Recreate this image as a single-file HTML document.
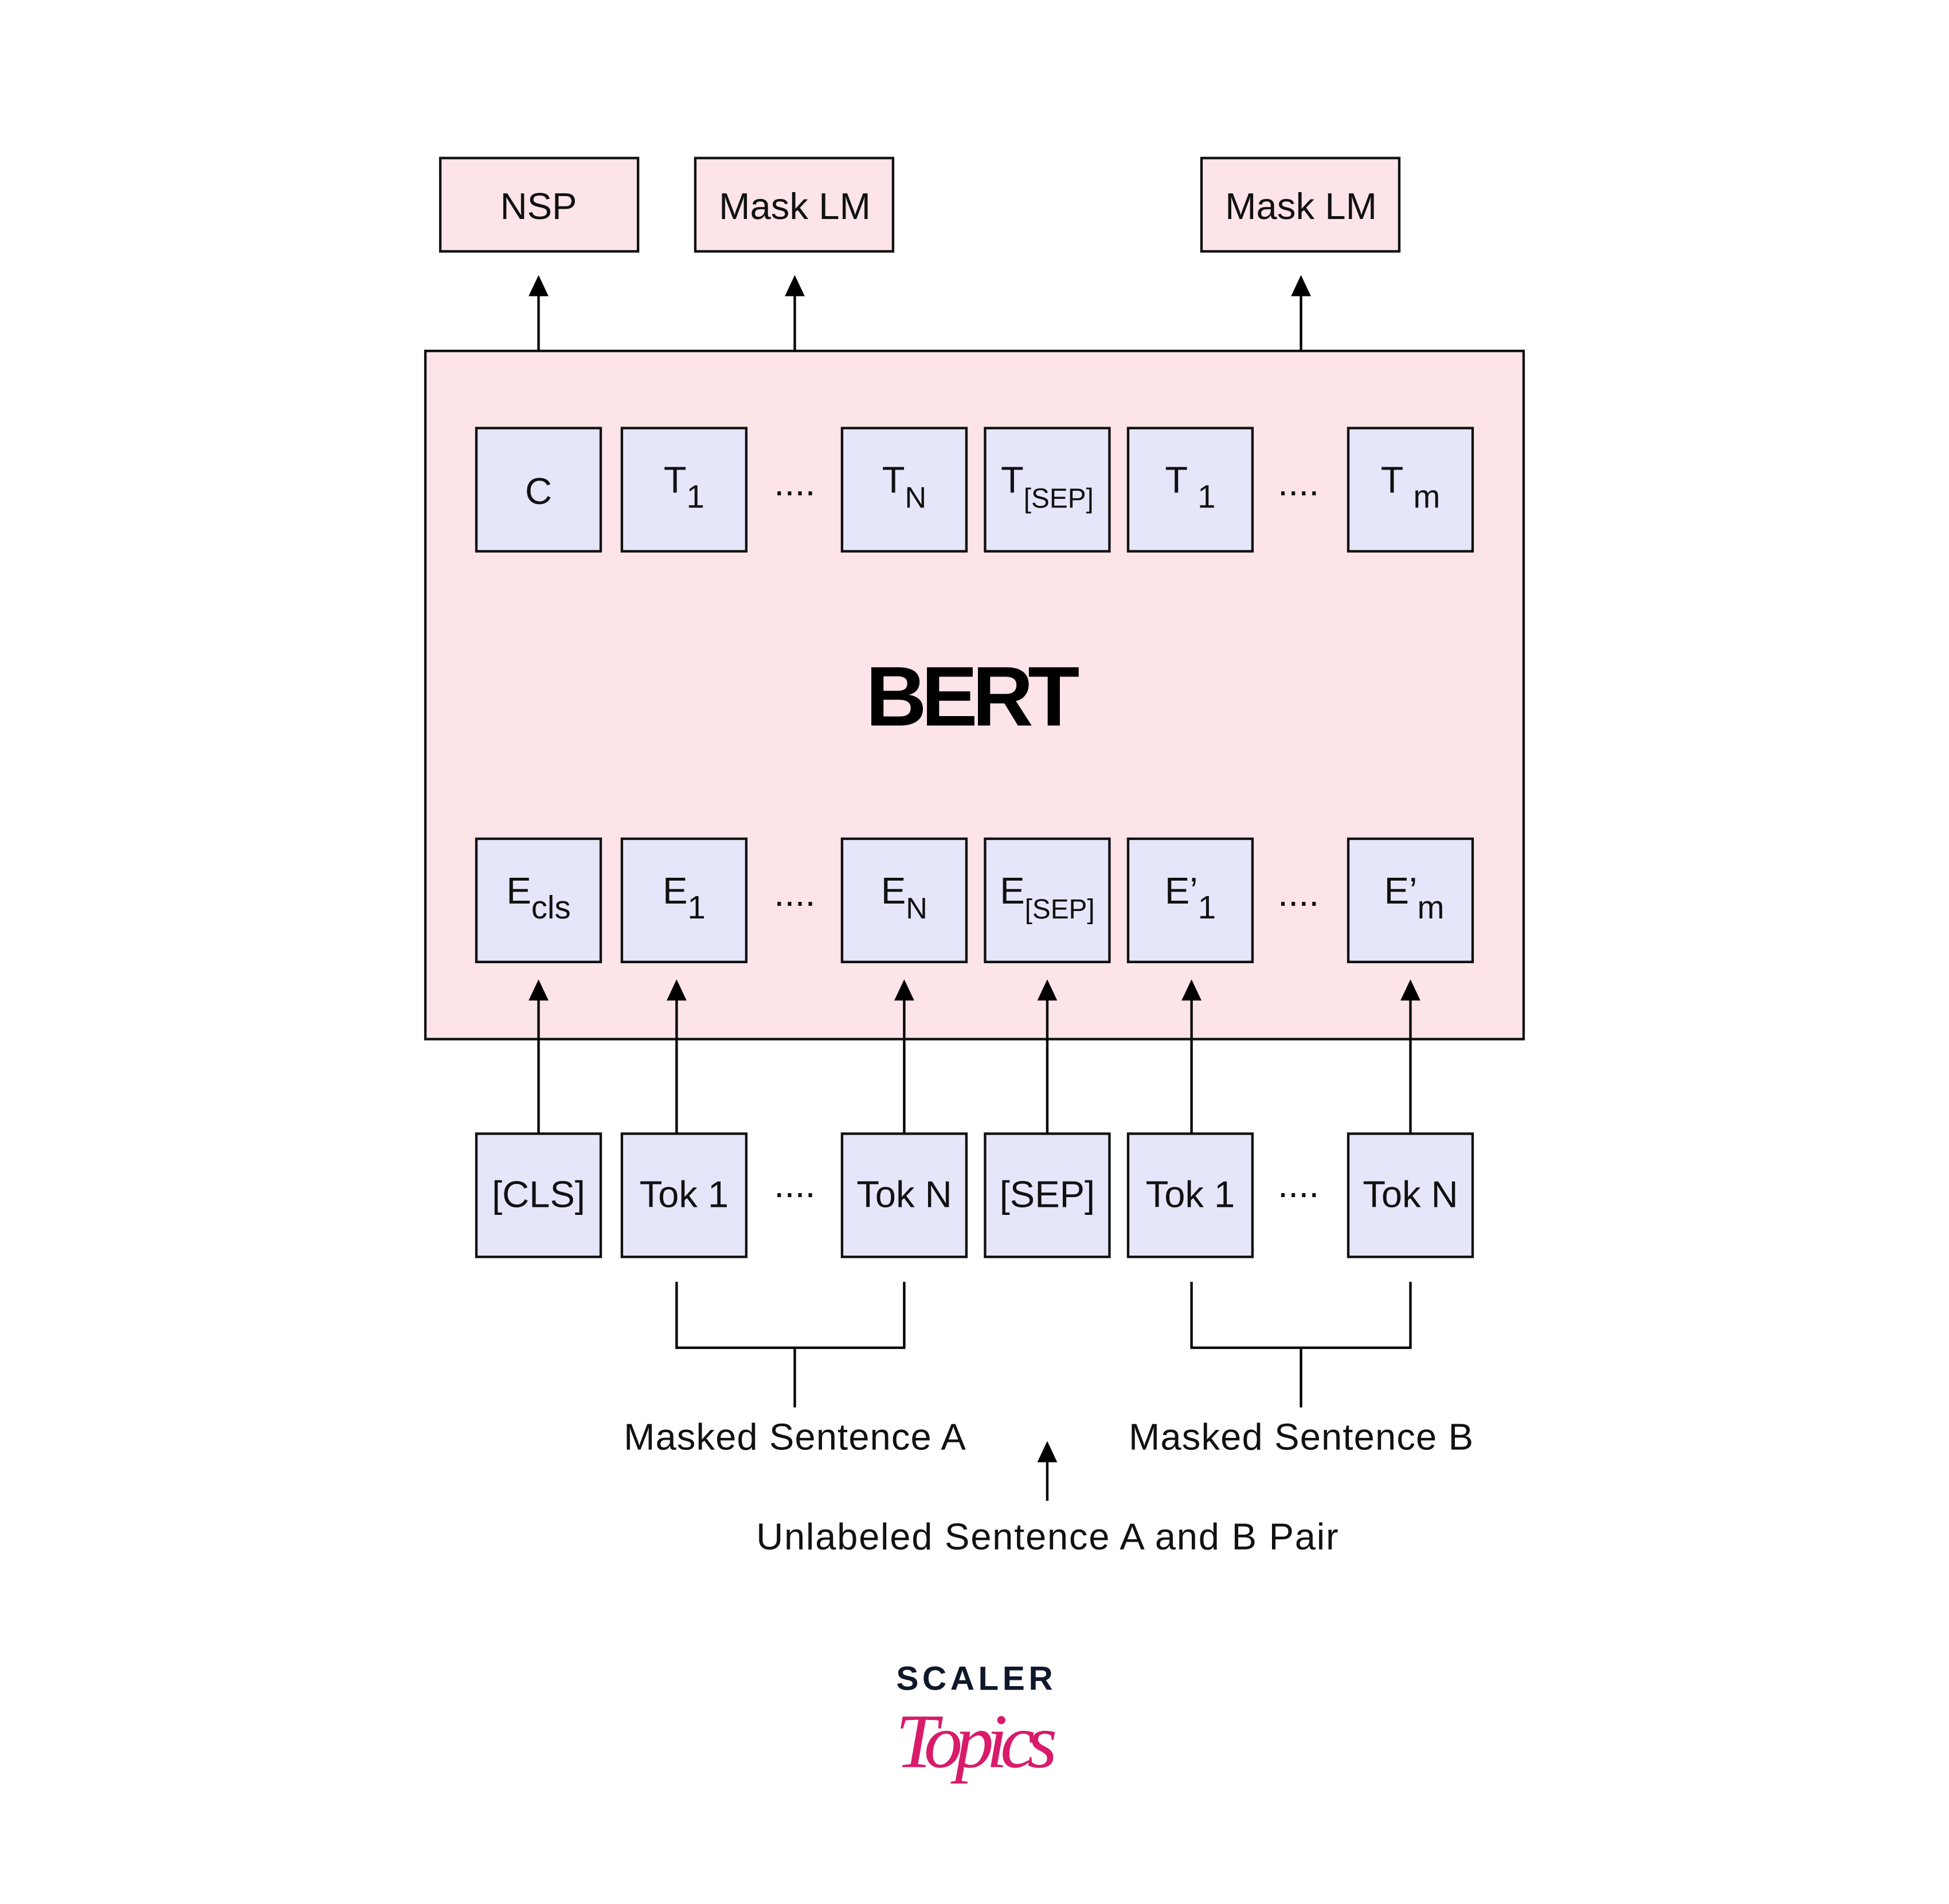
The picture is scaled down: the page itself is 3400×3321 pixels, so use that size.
<!DOCTYPE html>
<html><head><meta charset="utf-8"><style>html,body{margin:0;padding:0;background:#fff}svg{display:block}</style></head>
<body>
<svg width="3400" height="3321" viewBox="0 0 1567 1530" preserveAspectRatio="none" xmlns="http://www.w3.org/2000/svg" font-family="Liberation Sans, sans-serif">
<rect width="1567" height="1530" fill="#fff"/>
<g stroke="#111" stroke-width="2">
<rect x="354" y="127" width="159" height="75" fill="#fde4e8"/>
<rect x="559" y="127" width="159" height="75" fill="#fde4e8"/>
<rect x="966" y="127" width="159" height="75" fill="#fde4e8"/>
<rect x="342" y="282" width="883" height="553" fill="#fde4e8"/>
</g>
<g font-size="30" text-anchor="middle" fill="#111">
<text x="433" y="176">NSP</text>
<text x="639" y="176" textLength="122">Mask LM</text>
<text x="1046" y="176" textLength="122">Mask LM</text>
</g>
<g stroke="#000" stroke-width="2" fill="none">
<path d="M433 282V237M639 282V237M1046 282V237"/>
<path d="M433 911V802M544 911V802M727 911V802M842 911V802M958 911V802M1134 911V802"/>
<path d="M544 1030V1083H727V1030M639 1083V1131M958 1030V1083H1134V1030M1046 1083V1131M842 1206V1173"/>
</g>
<g fill="#000">
<path d="M425 238L433 221L441 238Z M631 238L639 221L647 238Z M1038 238L1046 221L1054 238Z"/>
<path d="M425 804L433 787L441 804Z M536 804L544 787L552 804Z M719 804L727 787L735 804Z M834 804L842 787L850 804Z M950 804L958 787L966 804Z M1126 804L1134 787L1142 804Z"/>
<path d="M834 1175L842 1158L850 1175Z"/>
</g>
<g stroke="#111" stroke-width="2" fill="#e6e6fb">
<rect x="383" y="344" width="100" height="99"/><rect x="500" y="344" width="100" height="99"/><rect x="677" y="344" width="100" height="99"/><rect x="792" y="344" width="100" height="99"/><rect x="907" y="344" width="100" height="99"/><rect x="1084" y="344" width="100" height="99"/>
<rect x="383" y="674" width="100" height="99"/><rect x="500" y="674" width="100" height="99"/><rect x="677" y="674" width="100" height="99"/><rect x="792" y="674" width="100" height="99"/><rect x="907" y="674" width="100" height="99"/><rect x="1084" y="674" width="100" height="99"/>
<rect x="383" y="911" width="100" height="99"/><rect x="500" y="911" width="100" height="99"/><rect x="677" y="911" width="100" height="99"/><rect x="792" y="911" width="100" height="99"/><rect x="907" y="911" width="100" height="99"/><rect x="1084" y="911" width="100" height="99"/>
</g>
<g font-size="30" fill="#111" text-anchor="middle">
<text x="433" y="405">C</text>
<text x="550" y="396">T<tspan font-size="26" dy="12">1</tspan></text>
<text x="727" y="396">T<tspan font-size="24" dy="12">N</tspan></text>
<text x="842" y="396">T<tspan font-size="22" dy="12">[SEP]</tspan></text>
<text x="957" y="396">T <tspan font-size="26" dy="12">1</tspan></text>
<text x="1134" y="396">T <tspan font-size="26" dy="12">m</tspan></text>
<text x="433" y="726">E<tspan font-size="26" dy="12">cls</tspan></text>
<text x="550" y="726">E<tspan font-size="26" dy="12">1</tspan></text>
<text x="727" y="726">E<tspan font-size="24" dy="12">N</tspan></text>
<text x="842" y="726">E<tspan font-size="22" dy="12">[SEP]</tspan></text>
<text x="957" y="726">E’<tspan font-size="26" dy="12">1</tspan></text>
<text x="1137" y="726">E’<tspan font-size="26" dy="12">m</tspan></text>
<text x="433" y="970">[CLS]</text>
<text x="550" y="970">Tok 1</text>
<text x="727" y="970">Tok N</text>
<text x="842" y="970">[SEP]</text>
<text x="957" y="970">Tok 1</text>
<text x="1134" y="970">Tok N</text>
<text x="639" y="398">....</text><text x="1044" y="398">....</text>
<text x="639" y="728">....</text><text x="1044" y="728">....</text>
<text x="639" y="962">....</text><text x="1044" y="962">....</text>
</g>
<text x="782" y="583" font-size="68" font-weight="bold" text-anchor="middle" fill="#000" textLength="172">BERT</text>
<g font-size="30" fill="#111" text-anchor="middle">
<text x="639" y="1165" textLength="275">Masked Sentence A</text>
<text x="1046" y="1165" textLength="277">Masked Sentence B</text>
<text x="842" y="1245" textLength="468">Unlabeled Sentence A and B Pair</text>
</g>
<text x="785" y="1358" font-size="27" font-weight="bold" letter-spacing="3" text-anchor="middle" fill="#0f172a">SCALER</text>
<text x="785" y="1420" font-size="62" font-style="italic" font-family="Liberation Serif, serif" text-anchor="middle" fill="#d81b6a" textLength="130">Topics</text>
</svg>
</body></html>
